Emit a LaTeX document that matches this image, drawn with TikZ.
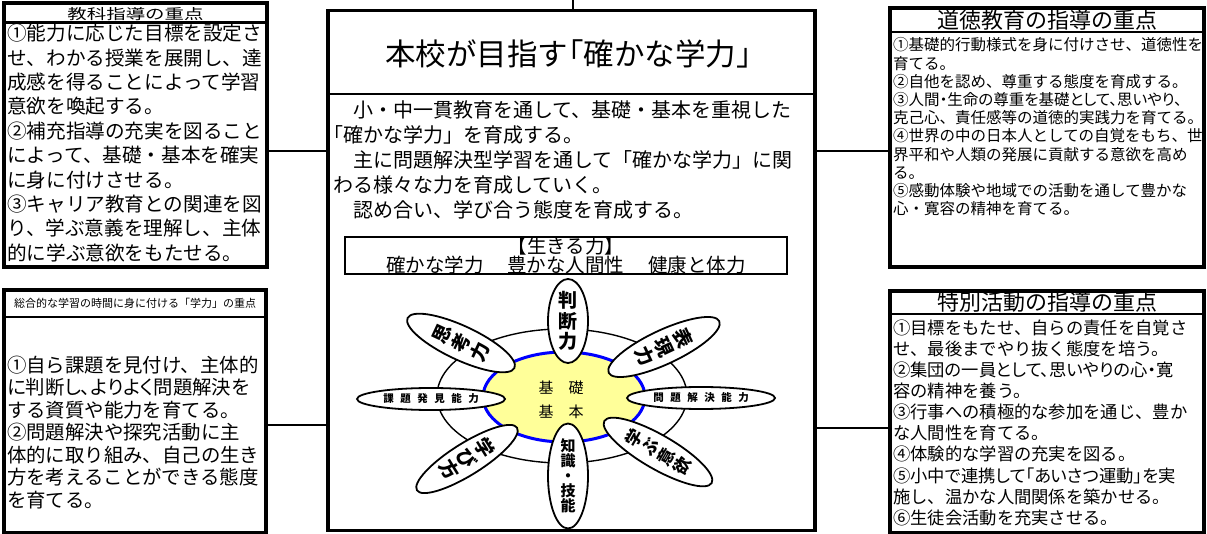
\documentclass[tikz,border=0pt]{standalone}
\usepackage{fontspec}
\setmainfont{Noto Sans CJK JP}
\newfontfamily\pfont{Noto Sans CJK JP}[RawFeature=+palt]
\usetikzlibrary{shapes.geometric}
\definecolor{coreyellow}{HTML}{FFFF99}
\definecolor{coreblue}{HTML}{0000FF}
\newcommand\gapx{\hspace{6.5pt}}
\tikzset{
  x=1pt, y=1pt,
  bigbox/.style={draw, line width=3.5pt, inner sep=0pt, outer sep=0pt},
  divider/.style={line width=2.2pt},
  conn/.style={line width=1.6pt},
  bodytext/.style={anchor=north west, align=left, inner sep=0pt},
  headtext/.style={inner sep=0pt},
  petal/.style={draw, fill=white, ellipse, line width=1.8pt, inner sep=0pt, align=center},
}
\begin{document}
\begin{tikzpicture}
\useasboundingbox (0,0) rectangle (1207,-534);

% ---------- boxes ----------
\node[bigbox, minimum width=263pt, minimum height=264pt] (kyoka) at (135.5,-135) {};
\node[bigbox, minimum width=487pt, minimum height=520pt] (center) at (571.5,-270.5) {};
\node[bigbox, minimum width=314pt, minimum height=259pt] (dotoku) at (1047,-137.5) {};
\node[bigbox, minimum width=314pt, minimum height=242pt] (tokkatsu) at (1047,-412) {};
\node[bigbox, minimum width=262pt, minimum height=243pt] (sogo) at (135,-411.5) {};

% header dividers
\draw[divider] (kyoka.west |- 0,-22.5) -- (kyoka.east |- 0,-22.5);
\draw[divider] (center.west |- 0,-94) -- (center.east |- 0,-94);
\draw[divider] (dotoku.west |- 0,-32) -- (dotoku.east |- 0,-32);
\draw[divider] (tokkatsu.west |- 0,-314) -- (tokkatsu.east |- 0,-314);
\draw[divider] (sogo.west |- 0,-317) -- (sogo.east |- 0,-317);

% ---------- headers ----------
\node[headtext, anchor=base, xscale=1.36, font=\fontsize{14.3}{14.3}\selectfont] (kyokah) at (135.5,-19.3) {教科指導の重点};
\node[headtext, font=\fontsize{22}{22}\selectfont] (dotokuh) at (1047,-20.5) {道徳教育の指導の重点};
\node[headtext, font=\fontsize{22}{22}\selectfont] (tokkatsuh) at (1047,-302.5) {特別活動の指導の重点};
\node[headtext, font=\fontsize{11}{11}\selectfont] (sogoh) at (135,-303.5) {総合的な学習の時間に身に付ける「学力」の重点};
\node[headtext, font=\fontsize{30.5}{30.5}\selectfont] (title) at (576,-54) {本校が目指す{\pfont 「}確かな学力」};

% ---------- body texts ----------
\node[bodytext, font=\fontsize{19.6}{24.4}\selectfont] (kyokab) at (7,-24) {%
①能力に応じた目標を設定さ\\
せ、わかる授業を展開し、達\\
成感を得ることによって学習\\
意欲を喚起する。\\
②補充指導の充実を図ること\\
によって、基礎・基本を確実\\
に身に付けさせる。\\
③キャリア教育との関連を図\\
り、学ぶ意義を理解し、主体\\
的に学ぶ意欲をもたせる。};

\node[bodytext, font=\fontsize{20}{25.2}\selectfont] (centerb) at (333,-100) {%
　小・中一貫教育を通して、基礎・基本を重視した\\
\kern-0.5em「確かな学力」を育成する。\\
　主に問題解決型学習を通して「確かな学力」に関\\
わる様々な力を育成していく。\\
　認め合い、学び合う態度を育成する。};

\node[bodytext, font=\fontsize{15.5}{18.2}\selectfont] (dotokub) at (893,-37.5) {%
①基礎的行動様式を身に付けさせ、道徳性を\\
育てる。\\
②自他を認め、尊重する態度を育成する。\\
{\pfont ③人間・生命の尊重を基礎として、思いやり、}\\
克己心、責任感等の道徳的実践力を育てる。\\
④世界の中の日本人としての自覚をもち、世\\
界平和や人類の発展に貢献する意欲を高め\\
る。\\
⑤感動体験や地域での活動を通して豊かな\\
心・寛容の精神を育てる。};

\node[bodytext, font=\fontsize{17.3}{21.1}\selectfont] (tokkatsub) at (893,-319.5) {%
①目標をもたせ、自らの責任を自覚さ\\
せ、最後までやり抜く態度を培う。\\
{\pfont ②集団の一員として、思いやりの心・寛}\\
容の精神を養う。\\
③行事への積極的な参加を通じ、豊か\\
な人間性を育てる。\\
④体験的な学習の充実を図る。\\
{\pfont ⑤小中で連携して「あいさつ運動」を実}\\
施し、温かな人間関係を築かせる。\\
⑥生徒会活動を充実させる。};

\node[bodytext, font=\fontsize{19.4}{22.5}\selectfont] (sogob) at (7,-355.5) {%
①自ら課題を見付け、主体的\\
{\pfont に判断し、よりよく問題解決を}\\
する資質や能力を育てる。\\
②問題解決や探究活動に主\\
体的に取り組み、自己の生き\\
方を考えることができる態度\\
を育てる。};

% ---------- 生きる力 ----------
\node[draw, line width=1.1pt, minimum width=442pt, minimum height=37pt, inner sep=0pt,
      align=center, font=\fontsize{19.5}{18.5}\selectfont] (ikiru) at (566,-255.5)
  {【生きる力】\\確かな学力\hspace{24pt}豊かな人間性\hspace{24pt}健康と体力};

% ---------- connectors ----------
\coordinate (topend) at (573,0);
\draw[conn] (topend) -- (center.north -| topend);
\draw[conn] (kyoka.east |- 0,-151) -- (center.west |- 0,-151);
\draw[conn] (sogo.east |- 0,-425) -- (center.west |- 0,-425);
\draw[conn] (center.east |- 0,-151) -- (dotoku.west |- 0,-151);
\draw[conn] (center.east |- 0,-428) -- (tokkatsu.west |- 0,-428);

% ---------- core diagram ----------
\node[draw, ellipse, line width=1.4pt, fill=white, minimum width=250pt, minimum height=134pt, inner sep=0pt] (outer) at (562,-396) {};
\node[draw=coreblue, ellipse, line width=3pt, fill=coreyellow, minimum width=162pt, minimum height=90pt, inner sep=0pt] (core) at (564,-397) {};
\node[align=center, inner sep=0pt, font=\fontsize{15}{24}\selectfont] (coretext) at (561,-400) {基　礎\\基　本};

\node[petal, minimum width=40pt, minimum height=84pt, font=\fontsize{19}{20.5}\selectfont\bfseries] (handan) at (568,-321) {判\\断\\力};
\node[petal, minimum width=40pt, minimum height=84pt, font=\fontsize{15}{15}\selectfont\bfseries] (chishiki) at (568,-476) {知\\識\\・\\技\\能};
\node[petal, minimum width=148pt, minimum height=22pt, font=\fontsize{10.5}{10.5}\selectfont\bfseries] (kadai) at (431,-399) {課\gapx 題\gapx 発\gapx 見\gapx 能\gapx 力};
\node[petal, minimum width=148pt, minimum height=22pt, font=\fontsize{10.5}{10.5}\selectfont\bfseries] (mondai) at (701,-398) {問\gapx 題\gapx 解\gapx 決\gapx 能\gapx 力};
\node[petal, minimum width=34pt, minimum height=118pt, rotate=65, font=\fontsize{19}{21}\selectfont\bfseries] (shiko) at (461,-343) {思\\考\\力};
\node[petal, minimum width=34pt, minimum height=122pt, rotate=-65, font=\fontsize{19}{21}\selectfont\bfseries] (hyogen) at (664,-347) {表\\現\\力};
\node[petal, minimum width=32pt, minimum height=118pt, rotate=-58, font=\fontsize{19}{21}\selectfont\bfseries] (manabikata) at (467,-459) {学\\び\\方};
\node[petal, minimum width=34pt, minimum height=124pt, rotate=60, font=\fontsize{17}{18.5}\selectfont\bfseries] (iyoku) at (658,-452) {学\\ぶ\\意\\欲};
\end{tikzpicture}
\end{document}
